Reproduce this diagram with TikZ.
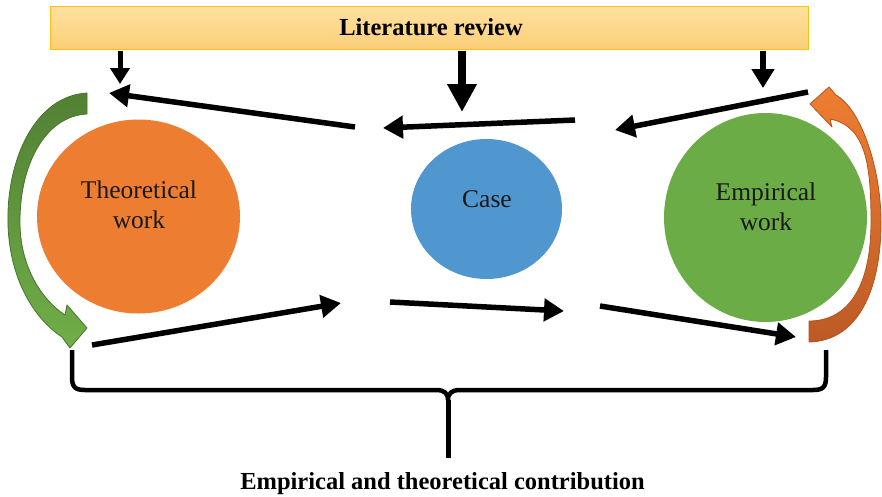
\documentclass[tikz,border=0pt]{standalone}
\usepackage{fontspec}
\setmainfont{Liberation Serif}
\usetikzlibrary{arrows.meta,shapes.geometric}
\definecolor{corange}{RGB}{237,125,49}
\definecolor{cgreen}{RGB}{108,172,70}
\definecolor{cblue}{RGB}{80,151,208}
\definecolor{gdark}{RGB}{82,128,52}
\definecolor{glight}{RGB}{112,175,72}
\definecolor{gedge}{RGB}{70,115,45}
\definecolor{odark}{RGB}{188,90,38}
\definecolor{olight}{RGB}{238,126,48}
\definecolor{oedge}{RGB}{180,85,30}
\definecolor{littop}{RGB}{254,225,160}
\definecolor{litbot}{RGB}{252,207,118}
\definecolor{litedge}{RGB}{252,192,20}
\begin{document}
\begin{tikzpicture}[x=1pt,y=-1pt,
  blob/.style={ellipse,inner sep=0pt,draw=none},
  lbl/.style={anchor=base,font=\fontsize{25.5}{30}\selectfont,text=black!90,inner sep=0pt},
  bold/.style={anchor=base,font=\fontsize{24.5}{29}\selectfont\bfseries,inner sep=0pt},
  blk/.style={line width=5.5pt,-{Triangle[length=20pt,width=22pt]}},
  brace/.style={line width=4.5pt,line join=round}]
\useasboundingbox (0,0) rectangle (882,496);

% literature review box
\node[draw=litedge,line width=1pt,top color=littop,bottom color=litbot,
      minimum width=758pt,minimum height=43pt,inner sep=0pt] (lit) at (429,27.5) {};
\node[bold] (littxt) at (431,35.5) {Literature review};

% circles
\node[blob,fill=corange,minimum width=203pt,minimum height=194pt] (theo) at (138.5,216.5) {};
\node[blob,fill=cblue,minimum width=151pt,minimum height=140pt] (case) at (486.5,209) {};
\node[blob,fill=cgreen,minimum width=203pt,minimum height=209pt] (emp) at (765.5,217.5) {};
\node[lbl] (theo1) at (139,198) {Theoretical};
\node[lbl] (theo2) at (139,228) {work};
\node[lbl] (case1) at (487,207) {Case};
\node[lbl] (emp1) at (766,200) {Empirical};
\node[lbl] (emp2) at (766,230) {work};

% curved green arrow (left)
\path[draw=gedge,line width=0.8pt,line join=round,top color=gdark,bottom color=glight]
  (87,93) .. controls (35,96) and (6,160) .. (8,225)
  .. controls (10,282) and (36,320) .. (62,337)
  -- (70,348) -- (87,328) -- (67,305) -- (65,315)
  .. controls (42,300) and (21,268) .. (20,225)
  .. controls (19,165) and (45,116) .. (87,114) -- cycle;

% curved orange arrow (right)
\path[draw=oedge,line width=0.8pt,line join=round,top color=olight,bottom color=odark]
  (809,342) .. controls (858,341) and (881,290) .. (881,222)
  .. controls (881,170) and (862,110) .. (836,95)
  -- (829,87) -- (810,104) -- (832,127) -- (830,119)
  .. controls (866,126) and (871,165) .. (871,222)
  .. controls (871,287) and (848,321) .. (809,321) -- cycle;

% coordinates of the black arrows
\coordinate (dLs) at (120,51);  \coordinate (dLe) at (120,84);
\coordinate (dMs) at (462,51);  \coordinate (dMe) at (462,112);
\coordinate (dRs) at (763,51);  \coordinate (dRe) at (763,88);
\coordinate (tLs) at (355,127); \coordinate (tLe) at (109,93);
\coordinate (tMs) at (575,120); \coordinate (tMe) at (383,128);
\coordinate (tRs) at (808,92);  \coordinate (tRe) at (615,130);
\coordinate (bLs) at (92,345);  \coordinate (bLe) at (341,303);
\coordinate (bMs) at (390,302); \coordinate (bMe) at (564,311);
\coordinate (bRs) at (600,306); \coordinate (bRe) at (796,337);

\draw[line width=5pt,-{Triangle[length=16pt,width=19pt]}] (dLs) -- (dLe);
\draw[line width=8pt,-{Triangle[length=28pt,width=28pt]}] (dMs) -- (dMe);
\draw[line width=6pt,-{Triangle[length=19pt,width=22pt]}] (dRs) -- (dRe);
\draw[blk] (tLs) -- (tLe);
\draw[blk] (tMs) -- (tMe);
\draw[blk] (tRs) -- (tRe);
\draw[blk] (bLs) -- (bLe);
\draw[blk] (bMs) -- (bMe);
\draw[blk] (bRs) -- (bRe);

% brace
\coordinate (brL) at (72,350);
\coordinate (brR) at (826,350);
\coordinate (brM) at (448,400);
\coordinate (brB) at (448,458);
\draw[brace] (brL) -- (72,377) .. controls (72,387) and (75,390) .. (85,390)
  -- (436,390) .. controls (444,390) and (448,393) .. (brM)
  .. controls (448,393) and (452,390) .. (460,390)
  -- (813,390) .. controls (823,390) and (826,387) .. (826,377) -- (brR);
\draw[line width=5pt] (brM) -- (brB);

\node[bold] (contrib) at (442.5,489.5) {Empirical and theoretical contribution};
\end{tikzpicture}
\end{document}
